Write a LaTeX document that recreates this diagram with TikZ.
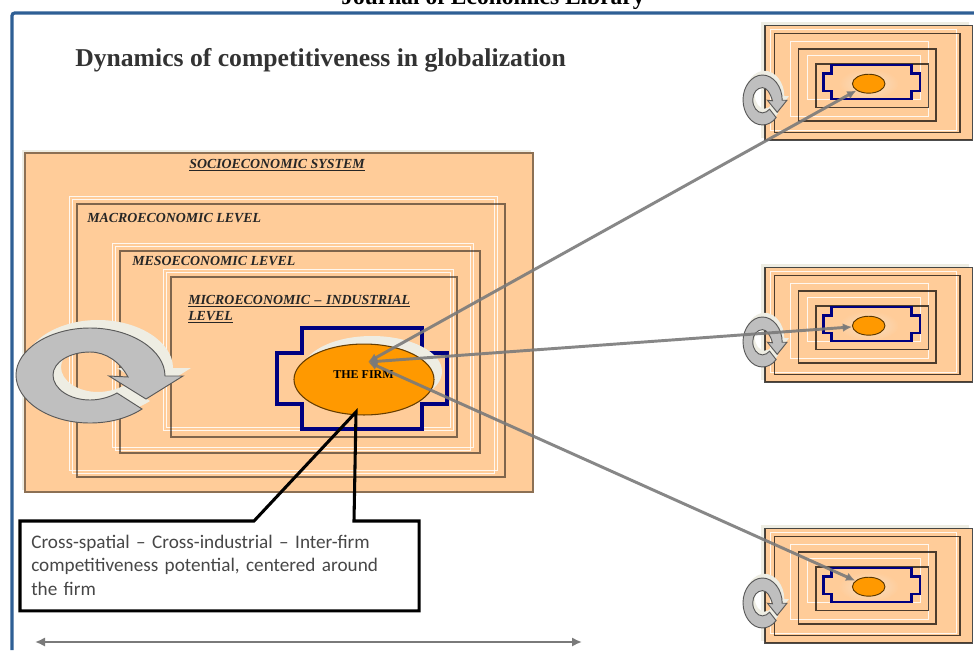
\documentclass[tikz,border=0pt]{standalone}
\usepackage{fontspec}
\setmainfont{Liberation Serif}
\newfontfamily\calloutfont{Carlito}
\usetikzlibrary{arrows.meta,shapes.geometric}
\definecolor{peach}{HTML}{FFCC99}
\definecolor{offwhite}{HTML}{EEEDE3}
\definecolor{firmorange}{HTML}{FF9900}
\definecolor{navyline}{HTML}{000080}
\definecolor{framec}{HTML}{2F5F95}
\definecolor{arrowgrey}{HTML}{7A7A7A}
\definecolor{cycgrey}{HTML}{BFBFBF}
\definecolor{glow}{HTML}{F6E0C8}
\tikzset{
  whitebox/.style={draw=white,draw opacity=0.85,line width=0.7pt},
  darkbox/.style={draw=black,draw opacity=0.5,line width=1.2pt},
  smalldark/.style={draw=black,draw opacity=0.7,line width=0.9pt},
  navyshape/.style={draw=navyline,line width=2.3pt},
  navysmall/.style={draw=navyline,line width=2.2pt},
  level/.style={font=\fontsize{10.4pt}{12pt}\selectfont\bfseries\itshape,text=black!85,inner sep=0pt,align=left},
  link/.style={draw=arrowgrey,draw opacity=0.9,line width=2.2pt,{Latex[length=7pt,width=6.5pt]}-{Latex[length=7pt,width=6.5pt]}},
}
\newcommand{\cyclepath}{(165,376) .. controls (165,350) and (131,328) .. (90,328)
  .. controls (49,328) and (16,350) .. (16,375)
  .. controls (16,401) and (49,423) .. (90,423)
  .. controls (110,423) and (128,418) .. (142,409)
  -- (117,393) .. controls (110,397) and (100,400) .. (90,400)
  .. controls (70,400) and (53,389) .. (53,375)
  .. controls (53,362) and (70,352) .. (90,352)
  .. controls (106,352) and (120,362) .. (128,377)
  -- (109,376) -- (146,399) -- (183,376) -- cycle}
\newcommand{\cyclearrow}{%
  \fill[offwhite,shift={(8,-8)}] \cyclepath;
  \draw[fill=cycgrey,draw=black!65,line width=0.7pt] \cyclepath;}
\newcommand{\smallmodule}[2]{%
  \begin{scope}[shift={(0,#1)}]
    \fill[offwhite] (760.7,21.7) rectangle (969,138);
    \draw[fill=peach,smalldark] (765,25.7) rectangle (972.3,140);
    \draw[whitebox] (770,29) rectangle (956.7,130);
    \draw[smalldark] (774.3,33.3) rectangle (960,132.7);
    \draw[whitebox] (790,41) rectangle (928.3,116.7);
    \draw[smalldark] (798.3,49) rectangle (936,121);
    \draw[whitebox] (807.7,55) rectangle (920.7,99.3);
    \draw[smalldark] (816,64) rectangle (928.7,107.3);
    \shade[inner color=glow,outer color=peach] (868.7,83.7) ellipse [x radius=30,y radius=15];
    \draw[navysmall] (831.7,65) -- (911.7,65) -- (911.7,73.3) -- (920,73.3) -- (920,91) -- (911.7,91)
      -- (911.7,99) -- (831.7,99) -- (831.7,91) -- (823.3,91) -- (823.3,73.3) -- (831.7,73.3) -- cycle;
    \node[ellipse,draw=black!65!firmorange,fill=firmorange,line width=0.7pt,minimum width=24.4pt,minimum height=14.2pt,inner sep=0pt] (#2) at (868.7,83.7) {};
    \begin{scope}[shift={(743,75)},xscale=0.263,yscale=0.526,shift={(-16,-328)}]
      \cyclearrow
    \end{scope}
  \end{scope}}
\begin{document}
\begin{tikzpicture}[x=0.75pt,y=-0.75pt]
\useasboundingbox (0,0) rectangle (974,650);
\fill[white] (0,0) rectangle (974,650);
% running head and frame
\node[font=\fontsize{17.6pt}{20pt}\selectfont\bfseries,inner sep=0pt,anchor=base] (head) at (493,4) {Journal of Economics Library};
\draw[framec,line width=2.4pt,rounded corners=2pt] (12,650) -- (12,13) -- (974,13);
\node[font=\fontsize{19.25pt}{22pt}\selectfont\bfseries,text=black!80,inner sep=0pt,anchor=west] (title) at (75,60) {Dynamics of competitiveness in globalization};
% small modules
\smallmodule{0}{e1}
\smallmodule{242}{e2}
\smallmodule{503}{e3}
% large module
\fill[offwhite] (22,150) rectangle (531,490);
\draw[fill=peach,draw=black!45!peach,line width=1pt] (25,153) rectangle (533,492);
\draw[whitebox] (69,196) rectangle (497,470);
\draw[whitebox] (72,199) rectangle (494,473);
\draw[darkbox] (77,204) rectangle (505,477);
\draw[whitebox] (112,243) rectangle (473,447);
\draw[whitebox] (115,246) rectangle (470,450);
\draw[darkbox] (120,251) rectangle (480,453);
\draw[whitebox] (163,269) rectangle (453,430);
\draw[whitebox] (166,272) rectangle (450,427);
\draw[darkbox] (171,277) rectangle (457,437);
\node[level,anchor=center] (socio) at (277,165) {\underline{SOCIOECONOMIC SYSTEM}};
\node[level,anchor=west] (macro) at (87,218) {MACROECONOMIC LEVEL};
\node[level,anchor=west] (meso) at (132,261.5) {MESOECONOMIC LEVEL};
\node[level,anchor=north west,text width=236pt] (micro) at (188,295) {\underline{MICROECONOMIC – INDUSTRIAL}\\\underline{LEVEL}};
\draw[navyshape] (302,328) -- (422,328) -- (422,353) -- (447,353) -- (447,404) -- (422,404) -- (422,429)
  -- (302,429) -- (302,404) -- (277,404) -- (277,353) -- (302,353) -- cycle;
\fill[offwhite] (372,371.5) ellipse [x radius=70,y radius=35.5];
\node[ellipse,draw=black!60!firmorange,fill=firmorange,line width=0.8pt,minimum width=105pt,minimum height=53.2pt,inner sep=0pt] (firm) at (364,379.5) {};
\node[font=\fontsize{9pt}{11pt}\selectfont,text=black,inner sep=0pt] (firmlabel) at (363.5,375) {\textbf{THE FIRM}};
\cyclearrow
% connectors
\coordinate (hub) at (368,362);
\draw[link] (hub) -- (e1);
\draw[link] (hub) -- (e2);
\draw[link] (hub) -- (e3);
% callout
\node[minimum width=299pt,minimum height=67pt,inner sep=0pt,anchor=north west] (callout) at (20,521) {};
\node[font=\fontsize{14.4pt}{17.7pt}\selectfont\calloutfont,text=black!72,text width=300pt,inner sep=0pt,align=left,anchor=north west] (callouttext) at (31,534.5) {Cross-spatial – Cross-industrial – Inter-firm\\competitiveness potential, centered around\\the firm};
\coordinate (tail) at (356,412);
\coordinate (taila) at (254,521);
\coordinate (tailb) at (354,521);
\draw[black,line width=2.3pt,line join=miter] (callout.north west) -- (taila) -- (tail) -- (tailb) -- (callout.north east) -- (callout.south east) -- (callout.south west) -- cycle;
% bottom span arrow
\coordinate (spanl) at (35,642);
\coordinate (spanr) at (582,642);
\draw[arrowgrey,line width=2.2pt,{Latex[length=7.5pt,width=7pt]}-{Latex[length=7.5pt,width=7pt]}] (spanl) -- (spanr);
\end{tikzpicture}
\end{document}
